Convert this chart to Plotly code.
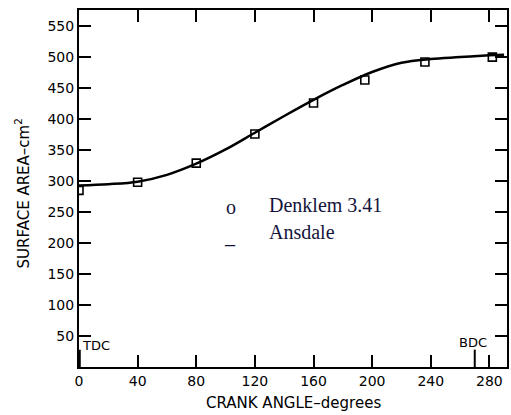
import plotly.graph_objects as go

# Data
curve_angle = [0, 20, 40, 60, 80, 100, 120, 140, 160, 180, 200, 220, 240, 260, 280, 290]
curve_area = [293, 295, 299, 310, 328, 351, 378, 405, 431, 455, 476, 491, 497, 500, 503, 504]

point_angle = [0, 40, 80, 120, 160, 195, 236, 282]
point_area = [285, 298, 329, 376, 426, 463, 492, 500]

x_ticks = [0, 40, 80, 120, 160, 200, 240, 280]
y_ticks = [50, 100, 150, 200, 250, 300, 350, 400, 450, 500, 550]

marker_angles = [0, 270]
marker_labels = ["TDC", "BDC"]

legend_labels = ["Denklem 3.41", "Ansdale"]
legend_symbols = ["o", "_"]

fig = go.Figure()
fig.add_trace(go.Scatter(x=curve_angle, y=curve_area, mode="lines",
                         line=dict(color="black", width=2.5, shape="spline", smoothing=1.0),
                         showlegend=False))
fig.add_trace(go.Scatter(x=point_angle, y=point_area, mode="markers",
                         marker=dict(symbol="square-open", size=8, color="black",
                                     line=dict(width=1.6, color="black")),
                         showlegend=False))

axis_font = dict(family="DejaVu Sans", size=14, color="black")
fig.update_xaxes(range=[0, 292], tickvals=x_ticks, ticks="inside", ticklen=12, tickwidth=1.5,
                 tickcolor="black", showline=True, linecolor="black", linewidth=2,
                 mirror="allticks", showgrid=False, zeroline=False, tickfont=axis_font)
fig.update_yaxes(range=[0, 576], tickvals=y_ticks, ticks="inside", ticklen=12, tickwidth=1.5,
                 tickcolor="black", showline=True, linecolor="black", linewidth=2,
                 mirror="allticks", showgrid=False, zeroline=False, tickfont=axis_font)

# TDC / BDC markers
widths = [3.5, 2]
for a, w in zip(marker_angles, widths):
    fig.add_shape(type="line", x0=a, x1=a, y0=0, y1=28, xref="x", yref="y",
                  line=dict(color="black", width=w))
fig.add_annotation(x=marker_angles[0], y=35, xref="x", yref="y", text=marker_labels[0],
                   showarrow=False, xanchor="left", xshift=1,
                   font=dict(family="DejaVu Sans", size=13, color="black"))
fig.add_annotation(x=marker_angles[1], y=40, xref="x", yref="y", text=marker_labels[1],
                   showarrow=False, xanchor="center", xshift=-2,
                   font=dict(family="DejaVu Sans", size=13, color="black"))

# Axis titles
fig.add_annotation(x=0.5, y=0, xref="paper", yref="paper", yshift=-36, text="CRANK ANGLE\u2013degrees",
                   showarrow=False, xanchor="center", yanchor="middle",
                   font=dict(family="DejaVu Sans", size=15, color="black"))
fig.add_annotation(x=0, y=0.5, xref="paper", yref="paper", xshift=-57, yshift=-5,
                   text="SURFACE AREA\u2013cm<sup>2</sup>", textangle=-90,
                   showarrow=False, xanchor="center", yanchor="middle",
                   font=dict(family="DejaVu Sans", size=15, color="black"))

# Legend text (positions given in pixels, converted to paper coords below)
leg_font = dict(family="Liberation Serif", size=20, color="#14143c")
fig.add_annotation(x=232, y=207, xref="paper", yref="paper", text=legend_symbols[0],
                   showarrow=False, xanchor="center", yanchor="middle", font=leg_font)
fig.add_annotation(x=231, y=236, xref="paper", yref="paper", text=legend_symbols[1],
                   showarrow=False, xanchor="center", yanchor="middle", font=leg_font)
fig.add_annotation(x=268, y=205, xref="paper", yref="paper", text=legend_labels[0],
                   showarrow=False, xanchor="left", yanchor="middle", font=leg_font)
fig.add_annotation(x=268, y=232, xref="paper", yref="paper", text=legend_labels[1],
                   showarrow=False, xanchor="left", yanchor="middle", font=leg_font)

L, R, T, B = 79, 2, 10, 48
W, H = 511, 415
pw, ph = W - L - R, H - T - B
for ann in fig.layout.annotations[-4:]:
    ann.x = (ann.x - L) / pw
    ann.y = 1 - (ann.y - T) / ph

fig.update_layout(width=W, height=H, margin=dict(l=L, r=R, t=T, b=B),
                  paper_bgcolor="white", plot_bgcolor="white", showlegend=False)

fig.write_html("out.html")
